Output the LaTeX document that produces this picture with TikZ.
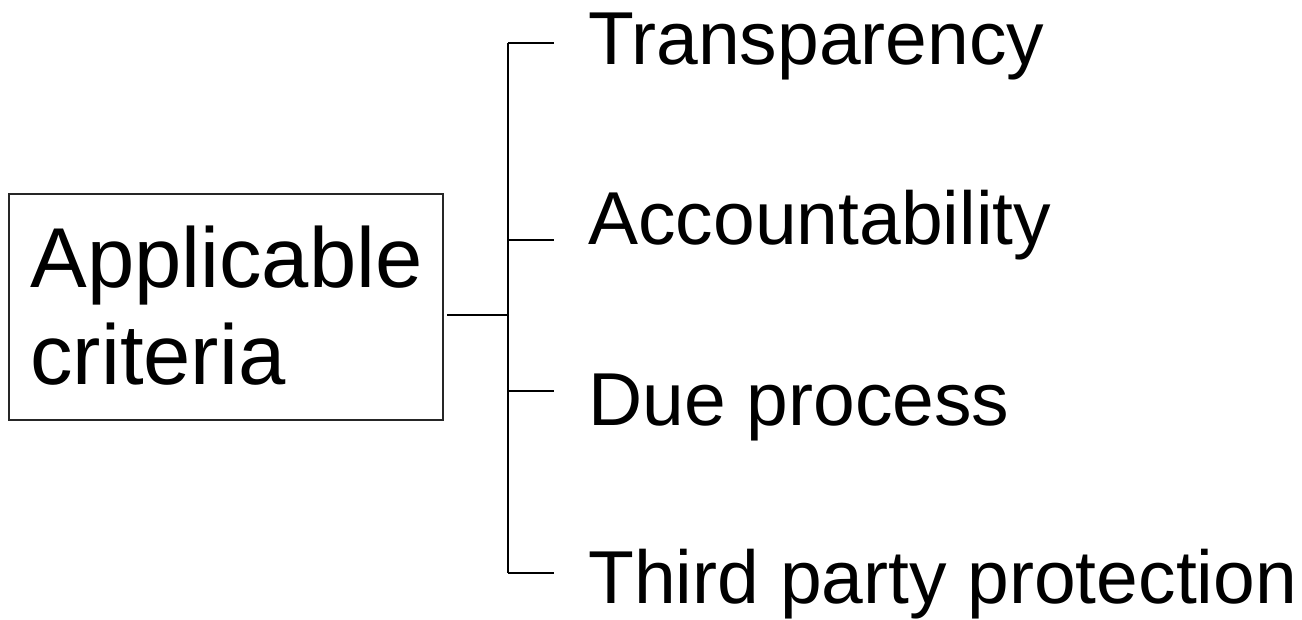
\documentclass[tikz,border=0pt]{standalone}
\usepackage{fontspec}
\setmainfont{Liberation Sans}
\begin{document}
\begin{tikzpicture}[x=0.5pt,y=-0.5pt,
  conn/.style={draw=black,line width=1pt},
  item/.style={anchor=base west,inner sep=0pt,font=\fontsize{37.5}{45}\selectfont},
  mainbox/.style={draw=black!85,line width=1pt,minimum width=217pt,minimum height=113pt,inner sep=0pt}]
\useasboundingbox (0,0) rectangle (1302,620);
\node[mainbox] (box) at (226,307) {};
\node[anchor=north west,inner sep=0pt,align=left,font=\fontsize{42.5}{48.5}\selectfont] (lbl) at (30,226) {Applicable\\criteria};
\coordinate (m) at (447,315);
\coordinate (j) at (508,315);
\coordinate (r1) at (508,43);
\coordinate (r2) at (508,240);
\coordinate (r3) at (508,391);
\coordinate (r4) at (508,573);
\coordinate (e1) at (554,43);
\coordinate (e2) at (554,240);
\coordinate (e3) at (554,391);
\coordinate (e4) at (554,573);
\node[item] (t1) at (588,65) {Transparency};
\node[item] (t2) at (588,245) {Accountability};
\node[item] (t3) at (588,425) {Due process};
\node[item] (t4) at (588,603) {Third party protection};
\draw[conn] (m) -- (j);
\draw[conn] (r1) -- (r4);
\draw[conn] (r1) -- (e1);
\draw[conn] (r2) -- (e2);
\draw[conn] (r3) -- (e3);
\draw[conn] (r4) -- (e4);
\end{tikzpicture}
\end{document}
